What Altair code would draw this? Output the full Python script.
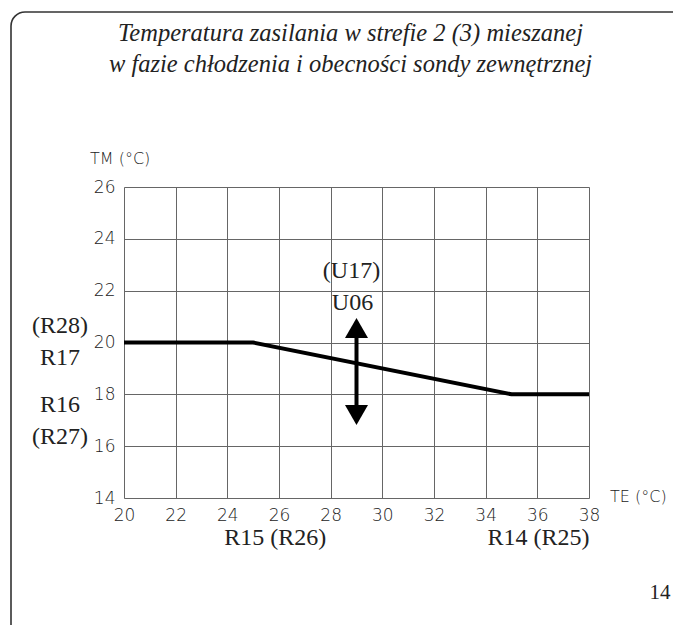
import altair as alt
import pandas as pd

# ---- data ----
te_values = [20, 25, 35, 38]
tm_values = [20, 20, 18, 18]
x_ticks = [20, 22, 24, 26, 28, 30, 32, 34, 36, 38]
y_ticks = [14, 16, 18, 20, 22, 24, 26]
arrow_x = 29
arrow_top = 20.56
arrow_bottom = 17.2
title_lines = ["Temperatura zasilania w strefie 2 (3) mieszanej",
               "w fazie chłodzenia i obecności sondy zewnętrznej"]
page_number = "14"

curve = pd.DataFrame({"TE": te_values, "TM": tm_values})
one = pd.DataFrame({"k": [0]})

SANS = "DejaVu Sans"
SERIF = "Liberation Serif"

xscale = alt.Scale(domain=[20, 38], nice=False, zero=False)
yscale = alt.Scale(domain=[14, 26], nice=False, zero=False)

xaxis = alt.Axis(values=x_ticks, grid=True, gridColor="#666", gridWidth=1,
                 domain=False, ticks=False, title=None, labelFont=SANS,
                 labelFontSize=17, labelFontWeight=200, labelColor="#222",
                 labelPadding=9, labelFlush=False, labelOverlap=False)
yaxis = alt.Axis(values=y_ticks, grid=True, gridColor="#666", gridWidth=1,
                 domain=False, ticks=False, title=None, labelFont=SANS,
                 labelFontSize=17, labelFontWeight=200, labelColor="#222",
                 labelPadding=9, labelFlush=False, labelOverlap=False)

line = alt.Chart(curve).mark_line(color="black", strokeWidth=4).encode(
    x=alt.X("TE:Q", scale=xscale, axis=xaxis),
    y=alt.Y("TM:Q", scale=yscale, axis=yaxis),
)

shaft = alt.Chart(one).mark_rule(color="black", strokeWidth=4).encode(
    x=alt.datum(arrow_x), y=alt.datum(arrow_top), y2=alt.datum(arrow_bottom))
head_up = alt.Chart(one).mark_point(shape="triangle-up", size=530, filled=True,
                                    color="black", opacity=1).encode(
    x=alt.datum(arrow_x), y=alt.datum(arrow_top))
head_down = alt.Chart(one).mark_point(shape="triangle-down", size=530, filled=True,
                                      color="black", opacity=1).encode(
    x=alt.datum(arrow_x), y=alt.datum(arrow_bottom))


def label(text, x, y, dx=0, dy=0, font=SERIF, size=24, align="center",
          italic=False, weight=400, color="#222"):
    return alt.Chart(one).mark_text(
        text=text, font=font, fontSize=size, align=align, baseline="middle",
        dx=dx, dy=dy, fontStyle="italic" if italic else "normal",
        fontWeight=weight, color=color).encode(x=alt.datum(x), y=alt.datum(y))


texts = [
    label("(R28)", 20, 20, dx=-64, dy=-17),
    label("R17", 20, 20, dx=-64, dy=15),
    label("R16", 20, 18, dx=-64, dy=11),
    label("(R27)", 20, 18, dx=-64, dy=43),
    label("R15 (R26)", 25, 14, dx=22, dy=40),
    label("R14 (R25)", 35, 14, dx=27, dy=40),
    label("(U17)", 29, 22, dx=-5, dy=-20),
    label("U06", 29, 22, dx=-4, dy=12),
    label("TM (°C)", 20, 26, dx=-34, dy=-28, font=SANS, size=16, align="left", weight=200),
    label("TE (°C)", 38, 14, dx=21, dy=-1, font=SANS, size=16, align="left", weight=200),
    label(page_number, 38, 14, dx=71, dy=95, size=21),
    label(title_lines[0], 29, 26, dx=-6, dy=-153, size=24.5, italic=True),
    label(title_lines[1], 29, 26, dx=-6, dy=-122, size=24.5, italic=True),
]

frame = alt.Chart(one).mark_rect(fill=None, stroke="#333", strokeWidth=1.6,
                                 cornerRadius=14).encode(
    x=alt.value(-113), x2=alt.value(700), y=alt.value(-175), y2=alt.value(700))

chart = alt.layer(frame, line, shaft, head_up, head_down, *texts).properties(
    width=465, height=311,
    autosize=alt.AutoSizeParams(type="none"),
    padding={"left": 116, "top": 179, "right": 84, "bottom": 127},
).configure_view(stroke="black", strokeWidth=3).configure(background="white")

chart.save("out.html", embed_options={"renderer": "svg", "actions": False})
